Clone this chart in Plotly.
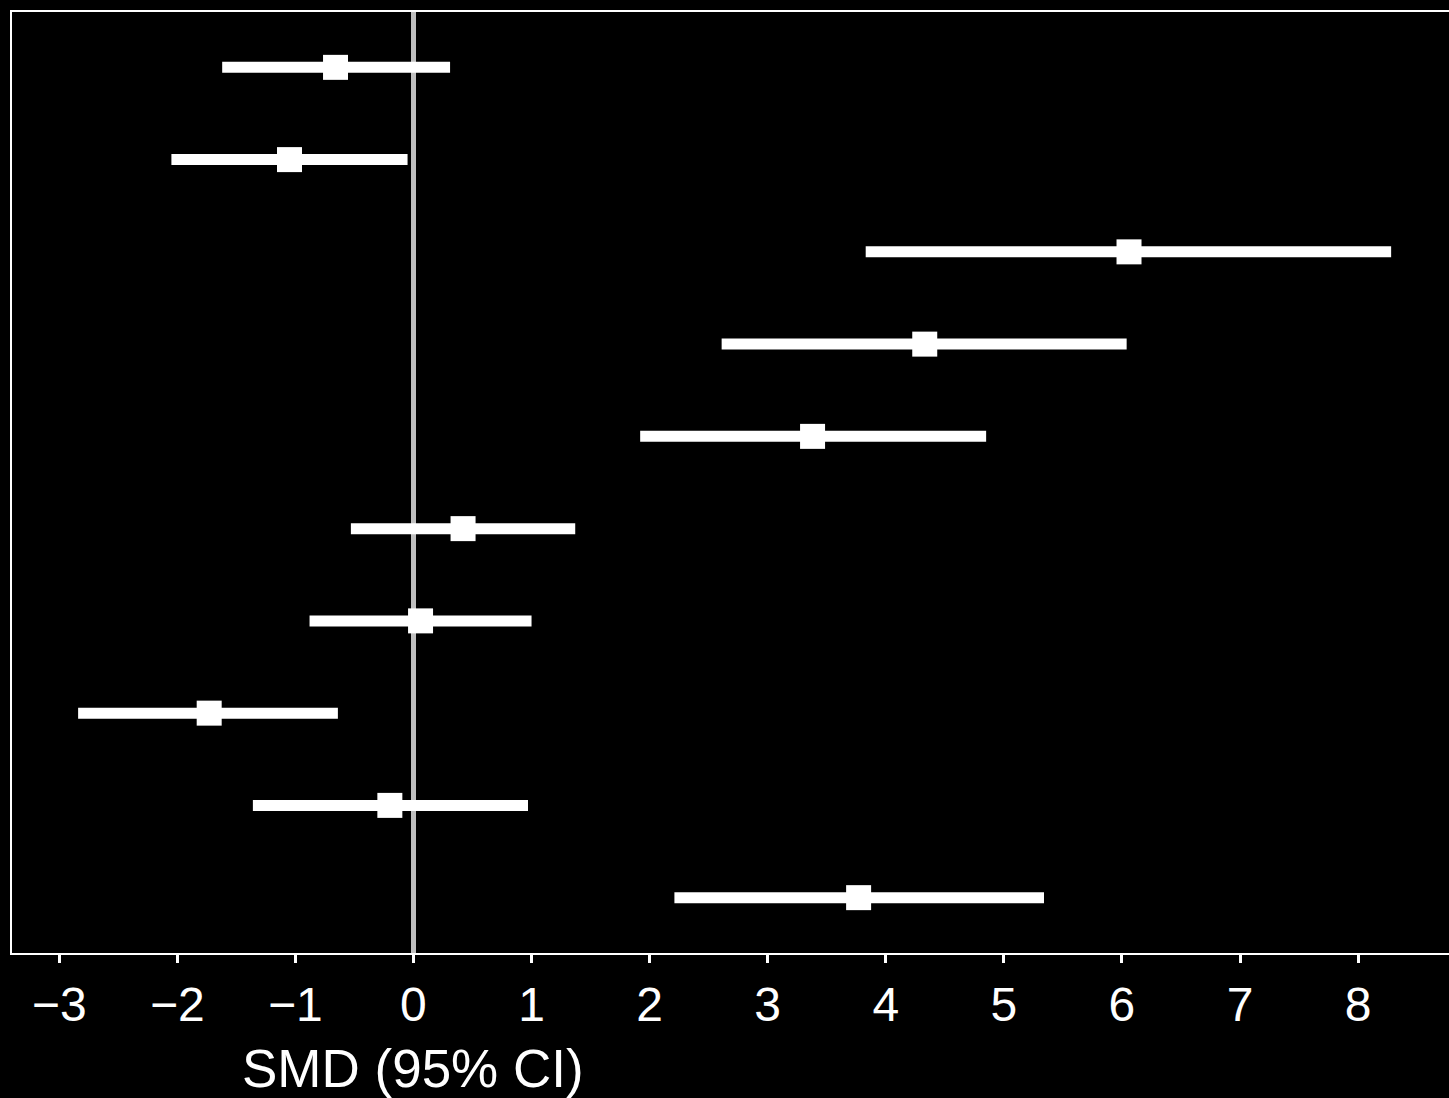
import plotly.graph_objects as go

# Standardised mean differences with 95% confidence intervals, one row per study
rows = [1, 2, 3, 4, 5, 6, 7, 8, 9, 10]
smd = [-0.66, -1.05, 6.06, 4.33, 3.38, 0.42, 0.06, -1.73, -0.20, 3.77]
ci_low = [-1.62, -2.05, 3.83, 2.61, 1.92, -0.53, -0.88, -2.84, -1.36, 2.21]
ci_high = [0.31, -0.05, 8.28, 6.04, 4.85, 1.37, 1.00, -0.64, 0.97, 5.34]

x_ticks = [-3, -2, -1, 0, 1, 2, 3, 4, 5, 6, 7, 8]
x_tick_labels = ["\u22123", "\u22122", "\u22121", "0", "1", "2", "3", "4", "5", "6", "7", "8"]
x_title = "SMD (95% CI)"

err_plus = [h - m for h, m in zip(ci_high, smd)]
err_minus = [m - l for m, l in zip(smd, ci_low)]

fig = go.Figure()
fig.add_trace(go.Scatter(
    x=smd,
    y=rows,
    mode="markers",
    marker=dict(symbol="square", size=25, color="white"),
    error_x=dict(type="data", symmetric=False, array=err_plus, arrayminus=err_minus,
                 color="white", thickness=11, width=0),
    showlegend=False,
    hoverinfo="skip",
))

font_family = "Liberation Sans, Arial, sans-serif"

# Axis title sits centred under the line of no effect
fig.add_annotation(
    x=0, xref="x",
    y=-0.123, yref="paper",
    yanchor="middle", xanchor="center",
    text=x_title,
    showarrow=False,
    font=dict(family=font_family, size=53, color="white"),
)

fig.update_layout(
    width=1449,
    height=1098,
    paper_bgcolor="black",
    plot_bgcolor="black",
    margin=dict(l=12, r=0, t=12, b=145),
    xaxis=dict(
        range=[-3.40, 8.77],
        tickvals=x_ticks,
        ticktext=x_tick_labels,
        ticks="outside",
        ticklen=8,
        tickwidth=3,
        tickcolor="white",
        showgrid=False,
        zeroline=True,
        zerolinecolor="#bfbfbf",
        zerolinewidth=5,
        showline=True,
        linecolor="white",
        linewidth=2,
        mirror=True,
        tickfont=dict(family=font_family, size=48, color="white"),
    ),
    yaxis=dict(
        range=[10.6, 0.4],
        showticklabels=False,
        ticks="",
        showgrid=False,
        zeroline=False,
        showline=True,
        linecolor="white",
        linewidth=2,
    ),
)

fig.write_html("out.html")
